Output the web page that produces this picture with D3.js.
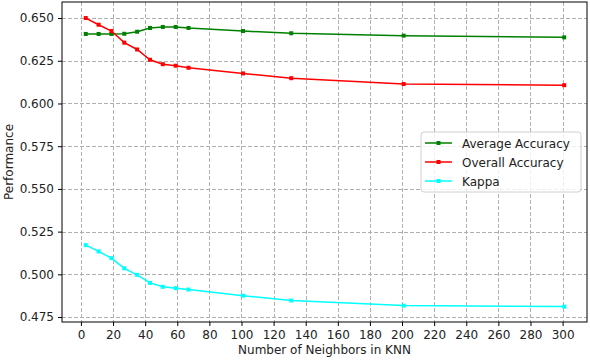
<!DOCTYPE html>
<html>
<head>
<meta charset="utf-8">
<script src="https://cdn.jsdelivr.net/npm/d3@7"></script>
<style>
  body { margin: 0; background: #fff; }
  text { font-family: "DejaVu Sans", sans-serif; }
</style>
</head>
<body>
<svg id="chart" width="590" height="360"></svg>
<script>
var neighbors = [3, 11, 19, 27, 35, 43, 51, 59, 67, 101, 131, 201, 301];
var averageAccuracy = [0.6407, 0.6407, 0.6407, 0.6408, 0.6420, 0.6442, 0.6448, 0.6448, 0.6442, 0.6424, 0.6411, 0.6397, 0.6387];
var overallAccuracy = [0.6500, 0.6461, 0.6424, 0.6356, 0.6316, 0.6256, 0.6230, 0.6221, 0.6209, 0.6176, 0.6148, 0.6114, 0.6107];
var kappa = [0.5171, 0.5134, 0.5095, 0.5035, 0.4997, 0.4950, 0.4927, 0.4919, 0.4911, 0.4875, 0.4847, 0.4817, 0.4811];
var xTicks = d3.range(0, 301, 20);
var yTicks = [0.475, 0.500, 0.525, 0.550, 0.575, 0.600, 0.625, 0.650];

var series = [
  { name: 'Average Accuracy', color: '#008000', values: averageAccuracy },
  { name: 'Overall Accuracy', color: '#ff0000', values: overallAccuracy },
  { name: 'Kappa', color: '#00ffff', values: kappa }
];

// plot area edges
var pLeft = 62, pRight = 587, pTop = 2, pBottom = 322;
var svg = d3.select('#chart');

var x = d3.scaleLinear().domain([-11.8, 315.2]).range([pLeft, pRight]);
var y = d3.scaleLinear().domain([0.4721, 0.6594]).range([pBottom, pTop]);

// grid
var grid = svg.append('g');
grid.selectAll('line.vx')
  .data(xTicks).enter().append('line')
  .attr('x1', (d) => Math.round(x(d)) + 0.5).attr('x2', (d) => Math.round(x(d)) + 0.5)
  .attr('y1', pTop).attr('y2', pBottom);
grid.selectAll('line.hy')
  .data(yTicks).enter().append('line')
  .attr('x1', pLeft).attr('x2', pRight)
  .attr('y1', (d) => Math.round(y(d)) + 0.5).attr('y2', (d) => Math.round(y(d)) + 0.5);
grid.selectAll('line')
  .attr('stroke', '#b0b0b0')
  .attr('stroke-width', 1)
  .attr('stroke-dasharray', '4,2');

// axes
var xAxis = svg.append('g')
  .attr('transform', 'translate(0,' + pBottom + ')')
  .call(d3.axisBottom(x).tickValues(xTicks).tickSize(4).tickPadding(4).tickFormat(d3.format('d')));
var yAxis = svg.append('g')
  .attr('transform', 'translate(' + pLeft + ',0)')
  .call(d3.axisLeft(y).tickValues(yTicks).tickSize(4).tickPadding(4).tickFormat(d3.format('.3f')));
[xAxis, yAxis].forEach(function(a) {
  a.select('.domain').remove();
  a.selectAll('text').attr('font-size', 12).attr('fill', '#222').style('font-family', '"DejaVu Sans", sans-serif');
  a.selectAll('line').attr('stroke', '#000');
});

// lines and markers
var line = d3.line()
  .x((d, i) => x(neighbors[i]))
  .y((d) => y(d));

series.forEach(function(s) {
  svg.append('path')
    .attr('d', line(s.values))
    .attr('fill', 'none')
    .attr('stroke', s.color)
    .attr('stroke-width', 1.5);
  svg.append('g').selectAll('rect')
    .data(s.values).enter().append('rect')
    .attr('x', (d, i) => x(neighbors[i]) - 2)
    .attr('y', (d) => y(d) - 2)
    .attr('width', 4).attr('height', 4)
    .attr('fill', s.color);
});

// frame
svg.append('rect')
  .attr('x', pLeft).attr('y', pTop)
  .attr('width', pRight - pLeft).attr('height', pBottom - pTop)
  .attr('fill', 'none').attr('stroke', '#000').attr('stroke-width', 1);

// labels
svg.append('text')
  .attr('x', (pLeft + pRight) / 2).attr('y', 354)
  .attr('text-anchor', 'middle').attr('font-size', 12).attr('fill', '#222')
  .text('Number of Neighbors in KNN');
svg.append('text')
  .attr('transform', 'translate(13,' + (pTop + pBottom) / 2 + ') rotate(-90)')
  .attr('text-anchor', 'middle').attr('font-size', 12).attr('fill', '#222')
  .text('Performance');

// legend
var legend = svg.append('g').attr('transform', 'translate(421,132)');
legend.append('rect')
  .attr('width', 160).attr('height', 60).attr('rx', 3)
  .attr('fill', '#fff').attr('fill-opacity', 0.8)
  .attr('stroke', '#d0d0d0');
series.forEach(function(s, i) {
  var g = legend.append('g').attr('transform', 'translate(0,' + (11 + i * 19) + ')');
  g.append('line').attr('x1', 4).attr('x2', 31).attr('y1', 0).attr('y2', 0)
    .attr('stroke', s.color).attr('stroke-width', 1.5);
  g.append('rect').attr('x', 15.5).attr('y', -2).attr('width', 4).attr('height', 4).attr('fill', s.color);
  g.append('text').attr('x', 41).attr('y', 4.5)
    .attr('font-size', 12).attr('fill', '#222').text(s.name);
});
</script>
</body>
</html>
